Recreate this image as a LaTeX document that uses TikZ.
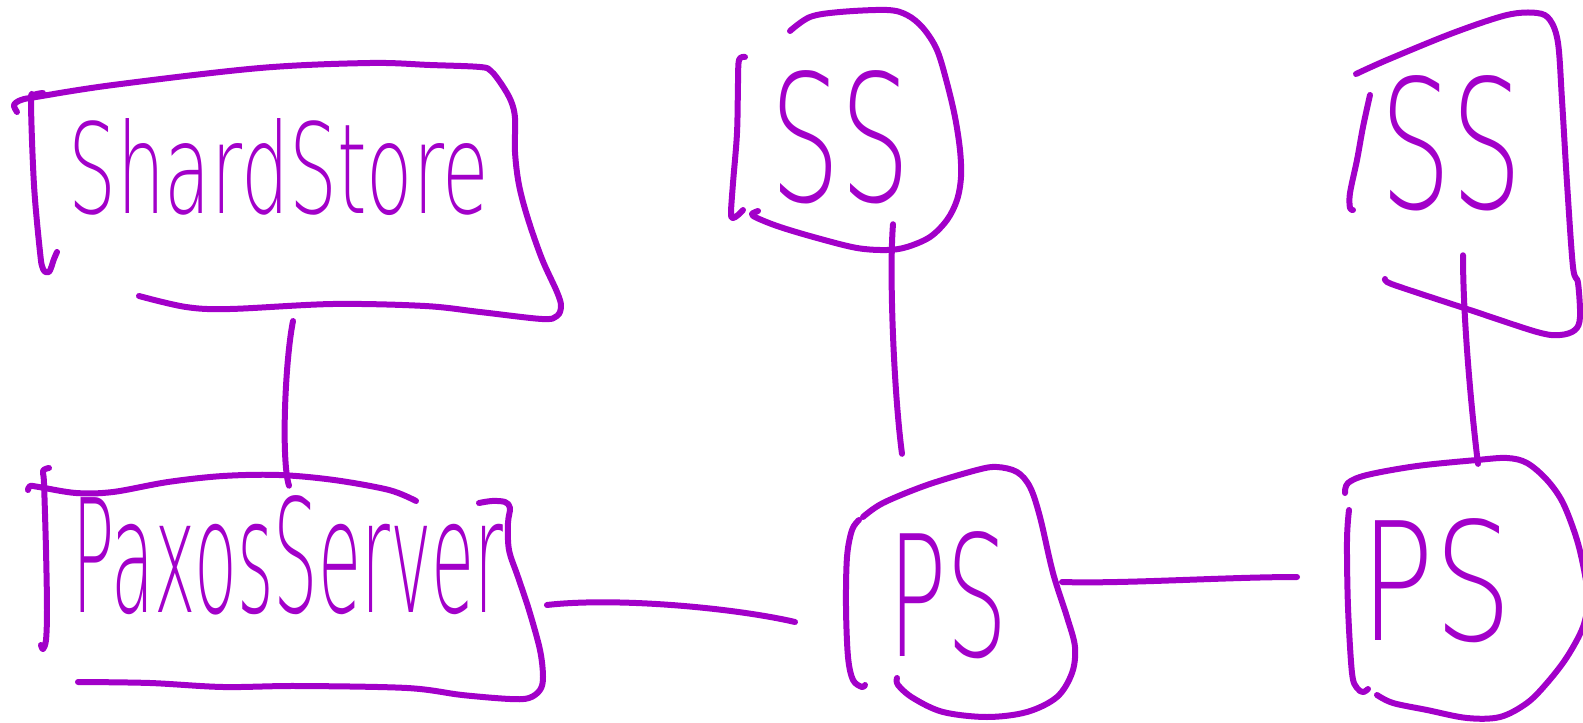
\documentclass[tikz,border=0pt]{standalone}
\usepackage{fontspec}
\newfontfamily\handfont{DejaVu Sans ExtraLight}
\definecolor{pen}{RGB}{162,0,201}
\newcommand{\handword}[3]{\resizebox{#1}{#2}{\handfont #3}}
\tikzset{
  ink/.style={draw=pen, line width=0.12cm, line cap=round, line join=round},
  word/.style={inner sep=0pt, outer sep=0pt, text=pen},
}

\begin{document}
\begin{tikzpicture}[x=0.02cm, y=-0.02cm]
      \useasboundingbox (0,0) rectangle (1583,723);
      \node[word] (shard) at (279,167) {\handword{8.4cm}{1.9cm}{ShardStore}};
      \node[word] (paxos) at (288,555) {\handword{8.62cm}{2.34cm}{PaxosServer}};
      \node[word] (ss1) at (840,137) {\handword{2.8cm}{2.62cm}{SS}};
      \node[word] (ps1) at (948,595) {\handword{2.4cm}{2.5cm}{PS}};
      \node[word] (ss2) at (1451,143) {\handword{2.84cm}{2.66cm}{SS}};
      \node[word] (ps2) at (1436,581) {\handword{3.04cm}{2.44cm}{PS}};
      % ShardStore box
      \draw[ink] plot[smooth, tension=0.55] coordinates {(17,112) (14,105) (21,100) (36,97) (113,85) (260,68) (370,63) (430,65) (480,67) (491,71) (502,85) (511,101) (515,118) (515,152) (519,185) (528,219) (542,259) (557,292) (561,306) (557,316) (542,319) (480,312) (425,306) (333,304) (230,309) (186,307) (139,296)};
      \draw[ink] plot[smooth, tension=0.55] coordinates {(43,93) (34,95) (31,102) (34,185) (40,252) (43,269) (49,272) (54,259) (57,252)};
      % PaxosServer box
      \draw[ink] plot[smooth, tension=0.55] coordinates {(28,490) (30,486) (39,487) (76,493) (113,492) (168,482) (223,476) (279,475) (334,480) (389,490) (416,501)};
      \draw[ink] plot[smooth, tension=0.55] coordinates {(49,468) (43,471) (44,483) (46,550) (47,610) (46,640) (43,649) (41,645)};
      \draw[ink] plot[smooth, tension=0.55] coordinates {(479,503) (492,501) (505,502) (510,508) (508,523) (509,550) (518,577) (529,610) (540,650) (543,677) (540,690) (529,698) (510,699) (462,695) (407,688) (297,686) (223,687) (150,683) (78,682)};
      % SS and PS blobs
      \draw[ink] plot[smooth, tension=0.55] coordinates {(790,31) (810,17) (840,12) (887,10) (907,15) (923,28) (937,50) (947,83) (955,117) (960,150) (961,177) (957,200) (947,220) (930,237) (907,247) (887,250) (857,248) (817,238) (780,227) (757,218) (752,214) (758,211)};
      \draw[ink] plot[smooth, tension=0.55] coordinates {(745,57) (739,60) (738,83) (737,133) (733,183) (731,213) (733,218) (738,215) (743,210)};
      \draw[ink] plot[smooth, tension=0.55] coordinates {(863,517) (883,503) (927,485) (977,470) (997,467) (1017,472) (1030,487) (1040,517) (1053,573) (1067,617) (1075,647) (1072,673) (1057,697) (1027,712) (987,717) (943,712) (913,698) (898,685) (897,678)};
      \draw[ink] plot[smooth, tension=0.55] coordinates {(859,520) (852,530) (847,557) (846,607) (848,657) (853,680) (862,687) (865,685)};
      \draw[ink] plot[smooth, tension=0.55] coordinates {(1356,74) (1387,60) (1453,33) (1507,15) (1537,13) (1550,20) (1558,43) (1562,100) (1567,183) (1573,267) (1578,283) (1580,317) (1575,330) (1560,335) (1537,332) (1470,310) (1403,288) (1387,282) (1385,279)};
      \draw[ink] plot[smooth, tension=0.55] coordinates {(1370,95) (1363,127) (1357,160) (1350,193) (1350,208) (1353,210)};
      \draw[ink] plot[smooth, tension=0.55] coordinates {(1345,493) (1348,483) (1367,475) (1417,466) (1477,460) (1507,458) (1527,463) (1547,480) (1563,503) (1577,540) (1585,575) (1588,600) (1583,627) (1567,657) (1547,683) (1527,703) (1500,717) (1467,718) (1427,710) (1393,703) (1377,695)};
      \draw[ink] plot[smooth, tension=0.55] coordinates {(1349,510) (1347,540) (1348,607) (1352,673) (1357,688) (1363,692) (1368,689)};
      % links
      \draw[ink] ([shift={(14,105.5)}]shard.south) .. controls +(-8,40) and +(-8,-25) .. ([shift={(1,-9.5)}]paxos.north);
      \draw[ink] ([shift={(53,20.5)}]ss1.south) .. controls +(-4,50) and +(-8,-60) .. ([shift={(-46,-77.5)}]ps1.north);
      \draw[ink] ([shift={(43.5,50)}]paxos.east) .. controls +(70,-8) and +(-60,-14) .. ([shift={(-93,27)}]ps1.west);
      \draw[ink] ([shift={(54,-13)}]ps1.east) .. controls +(60,2) and +(-70,0) .. ([shift={(-63,-4)}]ps2.west);
      \draw[ink] ([shift={(12,44.5)}]ss2.south) .. controls +(0,70) and +(-5,-40) .. ([shift={(42,-55)}]ps2.north);
\end{tikzpicture}
\end{document}
